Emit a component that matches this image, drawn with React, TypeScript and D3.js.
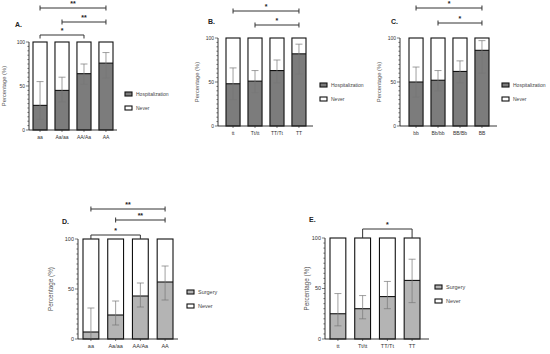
import React from "react";
import * as d3 from "d3";

// ---- data ----
const catsA = ["aa", "Aa/aa", "AA/Aa", "AA"];
const catsB = ["tt", "Tt/tt", "TT/Tt", "TT"];
const catsC = ["bb", "Bb/bb", "BB/Bb", "BB"];
const catsD = ["aa", "Aa/aa", "AA/Aa", "AA"];
const catsE = ["tt", "Tt/tt", "TT/Tt", "TT"];

const valA = [28, 45, 64, 76];
const loA = [12, 32, 52, 59];
const hiA = [55, 60, 75, 88];

const valB = [48, 51, 63, 82];
const loB = [30, 38, 49, 59];
const hiB = [66, 63, 75, 93];

const valC = [50, 52, 62, 86];
const loC = [33, 40, 49, 60];
const hiC = [67, 63, 74, 97];

const valD = [7, 24, 43, 57];
const loD = [0, 14, 32, 39];
const hiD = [31, 38, 56, 73];

const valE = [25, 30, 42, 58];
const loE = [13, 20, 30, 36];
const hiE = [45, 43, 57, 79];

const yTicks = [0, 50, 100];

// brackets: [from index, to index, label, style]
type Bracket = { a: number; b: number; label: string; kind: "bar" | "down" };
const sigA: Bracket[] = [
  { a: 0, b: 3, label: "**", kind: "bar" },
  { a: 1, b: 3, label: "**", kind: "bar" },
  { a: 0, b: 2, label: "*", kind: "down" },
];
const sigB: Bracket[] = [
  { a: 0, b: 3, label: "*", kind: "bar" },
  { a: 1, b: 3, label: "*", kind: "bar" },
];
const sigC: Bracket[] = [
  { a: 0, b: 3, label: "*", kind: "bar" },
  { a: 1, b: 3, label: "*", kind: "bar" },
];
const sigD: Bracket[] = [
  { a: 0, b: 3, label: "**", kind: "bar" },
  { a: 1, b: 3, label: "**", kind: "bar" },
  { a: 0, b: 2, label: "*", kind: "down" },
];
const sigE: Bracket[] = [{ a: 1, b: 3, label: "*", kind: "down" }];

const FONT = "'Liberation Sans', Arial, sans-serif";

type PanelProps = {
  title: string;
  cats: string[];
  val: number[];
  lo: number[];
  hi: number[];
  sig: Bracket[];
  sigY: number[];
  drop: number;
  legend: string;
  fill: string;
  axisX: number;
  axisEnd: number;
  barL: number;
  barR: number;
  yTop: number;
  yBot: number;
  titleX: number;
  titleY: number;
  labelX: number;
  legendX: number;
  legendY: number;
  fs: number;
};

const Panel = (p: PanelProps) => {
  const x = d3.scaleBand<string>().domain(p.cats).range([p.barL, p.barR]).paddingInner(0.36).paddingOuter(0);
  const y = d3.scaleLinear().domain([0, 100]).range([p.yBot, p.yTop]);
  const bw = x.bandwidth();
  const cx = (c: string) => (x(c) as number) + bw / 2;
  const minor = d3.range(0, 101, 5);
  return (
    <g>
      <text x={p.titleX} y={p.titleY} fontSize={7} fontWeight="bold" fill="#222">{p.title}</text>
      {/* bars */}
      {p.cats.map((c, i) => (
        <g key={c}>
          <rect x={x(c)} y={y(100)} width={bw} height={y(0) - y(100)} fill="#fff" />
          <rect x={x(c)} y={y(p.val[i])} width={bw} height={y(0) - y(p.val[i])} fill={p.fill} />
          <line x1={x(c)} x2={(x(c) as number) + bw} y1={y(p.val[i])} y2={y(p.val[i])} stroke="#111" strokeWidth={1.1} />
          <rect x={x(c)} y={y(100)} width={bw} height={y(0) - y(100)} fill="none" stroke="#111" strokeWidth={1.1} />
          <g stroke="#777" strokeWidth={0.7}>
            <line x1={cx(c)} x2={cx(c)} y1={y(p.lo[i])} y2={y(p.hi[i])} />
            <line x1={cx(c) - 3.5} x2={cx(c) + 3.5} y1={y(p.hi[i])} y2={y(p.hi[i])} />
            <line x1={cx(c) - 3.5} x2={cx(c) + 3.5} y1={y(p.lo[i])} y2={y(p.lo[i])} />
          </g>
        </g>
      ))}
      {/* y axis */}
      <line x1={p.axisX} x2={p.axisX} y1={y(100)} y2={y(0)} stroke="#222" strokeWidth={0.9} />
      {minor.map(t => (
        <line key={t} x1={p.axisX - (t % 50 === 0 ? 3 : 1.6)} x2={p.axisX} y1={y(t)} y2={y(t)} stroke="#222" strokeWidth={0.6} />
      ))}
      {yTicks.map(t => (
        <text key={t} x={p.axisX - 4} y={y(t)} dy="0.35em" textAnchor="end" fontSize={p.fs} fill="#333">{t}</text>
      ))}
      <text
        transform={`translate(${p.labelX},${(y(0) + y(100)) / 2}) rotate(-90)`}
        textAnchor="middle"
        fontSize={p.fs + 0.8}
        fill="#555"
      >
        Percentage (%)
      </text>
      {/* x axis */}
      <line x1={p.axisX} x2={p.axisEnd} y1={y(0)} y2={y(0)} stroke="#222" strokeWidth={0.9} />
      {p.cats.map(c => (
        <g key={c}>
          <line x1={cx(c)} x2={cx(c)} y1={y(0)} y2={y(0) + 2} stroke="#222" strokeWidth={0.6} />
          <text x={cx(c)} y={y(0) + 8.5} textAnchor="middle" fontSize={p.fs} fill="#333">{c}</text>
        </g>
      ))}
      {/* significance */}
      {p.sig.map((s, i) => {
        const x1 = cx(p.cats[s.a]);
        const x2 = cx(p.cats[s.b]);
        const yy = p.sigY[i];
        return (
          <g key={i} stroke="#333" strokeWidth={1}>
            <line x1={x1} x2={x2} y1={yy} y2={yy} />
            {s.kind === "bar" ? (
              <>
                <line x1={x1} x2={x1} y1={yy - 2.5} y2={yy + 2.5} />
                <line x1={x2} x2={x2} y1={yy - 2.5} y2={yy + 2.5} />
              </>
            ) : (
              <>
                <line x1={x1} x2={x1} y1={yy} y2={yy + p.drop} />
                <line x1={x2} x2={x2} y1={yy} y2={yy + p.drop} />
              </>
            )}
            <text x={(x1 + x2) / 2} y={yy - 2} textAnchor="middle" fontSize={7} fontWeight="bold" fill="#222" stroke="none">
              {s.label}
            </text>
          </g>
        );
      })}
      {/* legend */}
      {[p.legend, "Never"].map((l, i) => (
        <g key={l} transform={`translate(${p.legendX},${p.legendY + i * 14})`}>
          <rect x={0} y={-2} width={7} height={4} fill={i === 0 ? p.fill : "#fff"} stroke="#111" strokeWidth={1.1} />
          <text x={11} y={0} dy="0.35em" fontSize={p.fs} fill="#444">{l}</text>
        </g>
      ))}
    </g>
  );
};

const App = () => (
  <svg width={550} height={354} style={{ position: "absolute", left: 0, top: 0, background: "#fff", fontFamily: FONT }}>
    <Panel title="A." cats={catsA} val={valA} lo={loA} hi={hiA} sig={sigA} sigY={[8, 22, 35]} drop={3.5}
      legend="Hospitalization" fill="#7c7c7c" axisX={29} axisEnd={117} barL={33} barR={113}
      yTop={42} yBot={130} titleX={15} titleY={27} labelX={6} legendX={125} legendY={94} fs={5} />
    <Panel title="B." cats={catsB} val={valB} lo={loB} hi={hiB} sig={sigB} sigY={[11, 25]} drop={0}
      legend="Hospitalization" fill="#7c7c7c" axisX={218} axisEnd={313} barL={226} barR={306}
      yTop={38} yBot={126} titleX={208} titleY={24} labelX={199} legendX={320} legendY={85} fs={5} />
    <Panel title="C." cats={catsC} val={valC} lo={loC} hi={hiC} sig={sigC} sigY={[8, 23]} drop={0}
      legend="Hospitalization" fill="#7c7c7c" axisX={400} axisEnd={497} barL={409} barR={489}
      yTop={38} yBot={126} titleX={391} titleY={24} labelX={381} legendX={502} legendY={85} fs={5} />
    <Panel title="D." cats={catsD} val={valD} lo={loD} hi={hiD} sig={sigD} sigY={[209, 220, 235]} drop={4}
      legend="Surgery" fill="#b4b4b4" axisX={78} axisEnd={178} barL={83} barR={173}
      yTop={239} yBot={339} titleX={62} titleY={224} labelX={53} legendX={187} legendY={292} fs={5.5} />
    <Panel title="E." cats={catsE} val={valE} lo={loE} hi={hiE} sig={sigE} sigY={[229]} drop={9}
      legend="Surgery" fill="#b4b4b4" axisX={325} axisEnd={429} barL={330} barR={420}
      yTop={238} yBot={339} titleX={309} titleY={222} labelX={309} legendX={435} legendY={287} fs={5.5} />
  </svg>
);

export default App;
